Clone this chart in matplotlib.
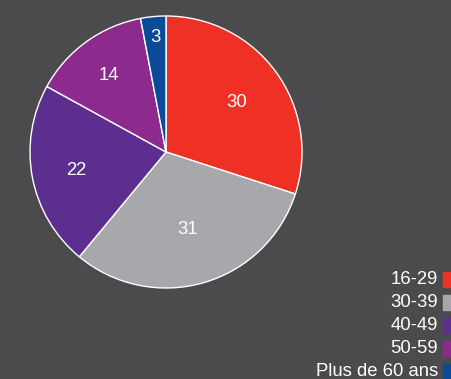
import matplotlib.pyplot as plt
from matplotlib.patches import Rectangle
import numpy as np

plt.rcParams['font.family'] = ['Liberation Sans', 'DejaVu Sans']

categories = ['16-29', '30-39', '40-49', '50-59', 'Plus de 60 ans']
values = [30, 31, 22, 14, 3]
colors = ['#ee3124', '#a7a8ab', '#5b2e90', '#8d2a8e', '#0a4a97']
label_r = [0.64, 0.58, 0.67, 0.71, 0.86]

bg = '#4b4b4d'
W, H = 451, 379
fig = plt.figure(figsize=(W / 100, H / 100), dpi=100, facecolor=bg)
ax = fig.add_axes([0, 0, 1, 1])
ax.set_facecolor(bg)

cx, cy, R = 166, H - 152, 136
wedges, texts = ax.pie(values, colors=colors, startangle=90, counterclock=False,
                       center=(cx, cy), radius=R, labels=[str(v) for v in values],
                       labeldistance=0.6, frame=True,
                       wedgeprops=dict(edgecolor='white', linewidth=1),
                       textprops=dict(color='white', fontsize=13.3))
ax.set_xlim(0, W)
ax.set_ylim(0, H)
ax.set_aspect('equal')
ax.axis('off')
for w, t, r in zip(wedges, texts, label_r):
    ang = np.deg2rad((w.theta1 + w.theta2) / 2)
    t.set_position((cx + r * R * np.cos(ang), cy + r * R * np.sin(ang) - 1.5))
    t.set_ha('center')
    t.set_va('center')

# legend on the right, squares cut by the border
for i, (c, col) in enumerate(zip(categories, colors)):
    yc = H - (279.5 + 23 * i)
    ax.add_patch(Rectangle((443, yc - 7.5), 10, 15, color=col, clip_on=False))
    ax.text(438, yc, c, ha='right', va='center', color='white', fontsize=13.3)

fig.savefig('out.png', dpi=100, facecolor=bg)
